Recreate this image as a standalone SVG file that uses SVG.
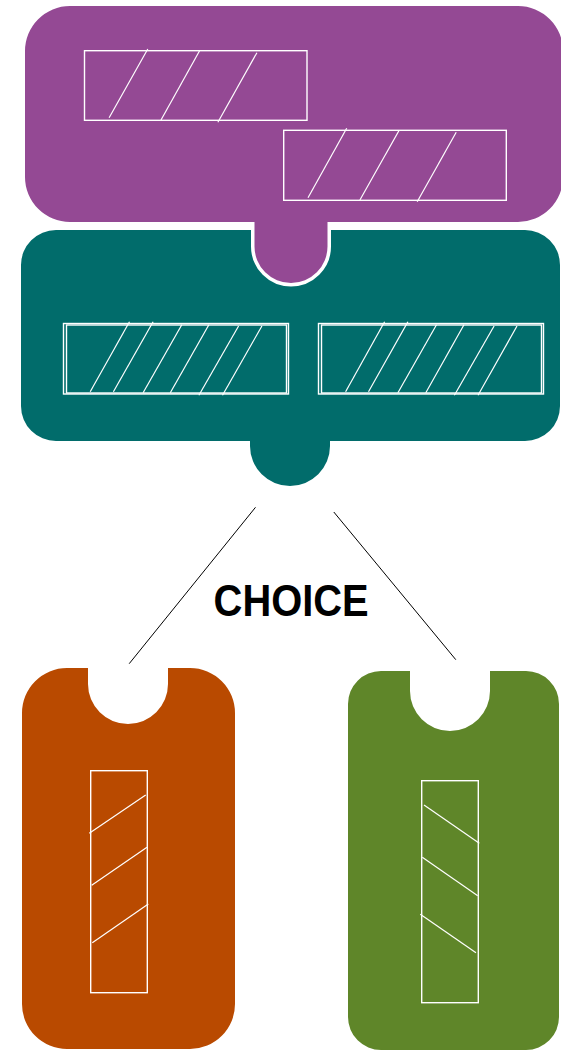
<svg xmlns="http://www.w3.org/2000/svg" width="561" height="1053" viewBox="0 0 561 1053">
<style>
.hatch{fill:none;stroke:#ffffff;stroke-width:1.2}
.box{fill:none;stroke:#ffffff;stroke-width:1.4}
.conn{stroke:#000000;stroke-width:1;fill:none}
.label{font-family:"Liberation Sans",Arial,sans-serif;font-weight:bold;font-size:44px;fill:#000000}
</style>
<rect width="561" height="1053" fill="#ffffff"/>
<g id="teal-node">
<path d="M56,230 H525 A35,35 0 0 1 560,265 V406 A35,35 0 0 1 525,441 H330 V446 A40,40 0 0 1 250,446 V441 H56 A35,35 0 0 1 21,406 V265 A35,35 0 0 1 56,230 Z" fill="#016c6b"/>
<rect class="box" x="63.5" y="323.5" width="225" height="70.5"/>
<rect class="box" x="66.5" y="325" width="220" height="68"/>
<rect class="box" x="318.5" y="323.5" width="225" height="70.5"/>
<rect class="box" x="321.5" y="325" width="220" height="68"/>
<line class="hatch" x1="129.5" y1="321.7" x2="90.2" y2="391.7"/>
<line class="hatch" x1="153.1" y1="321.7" x2="113.4" y2="391.7"/>
<line class="hatch" x1="181.8" y1="324.7" x2="143.1" y2="392.7"/>
<line class="hatch" x1="208.9" y1="324.7" x2="170.3" y2="392.7"/>
<line class="hatch" x1="238.6" y1="326" x2="198.9" y2="395.3"/>
<line class="hatch" x1="261.9" y1="326" x2="222.5" y2="395.3"/>
<line class="hatch" x1="384.6" y1="321.7" x2="345.6" y2="391.7"/>
<line class="hatch" x1="407.9" y1="321.7" x2="368.5" y2="391.7"/>
<line class="hatch" x1="436.5" y1="324.7" x2="397.9" y2="392.7"/>
<line class="hatch" x1="464" y1="324.7" x2="425.8" y2="392.7"/>
<line class="hatch" x1="494.1" y1="326" x2="454.4" y2="395.3"/>
<line class="hatch" x1="517" y1="326" x2="478" y2="395.3"/>
</g>
<g id="purple-node">
<path d="M70,6 H518 A45,45 0 0 1 563,51 V177 A45,45 0 0 1 518,222 H327.5 V246.5 A36.5,36.5 0 0 1 254.5,246.5 V222 H70 A45,45 0 0 1 25,177 V51 A45,45 0 0 1 70,6 Z" fill="#944994" stroke="#ffffff" stroke-width="7" paint-order="stroke"/>
<rect class="box" x="84.5" y="50.7" width="222.5" height="69.6"/>
<rect class="box" x="283.7" y="130.3" width="222.6" height="70"/>
<line class="hatch" x1="147.8" y1="49" x2="109.1" y2="117.7"/>
<line class="hatch" x1="199.6" y1="50.7" x2="161" y2="120"/>
<line class="hatch" x1="256.9" y1="52.7" x2="217.9" y2="122.3"/>
<line class="hatch" x1="346.7" y1="128.3" x2="308" y2="197.7"/>
<line class="hatch" x1="398.9" y1="130.7" x2="359.9" y2="200"/>
<line class="hatch" x1="456.2" y1="132.3" x2="417.2" y2="201.7"/>
</g>
<g id="connectors">
<line class="conn" x1="255.5" y1="507.3" x2="129.2" y2="663.7"/>
<line class="conn" x1="333.8" y1="512" x2="455.8" y2="659.7"/>
</g>
<g id="choice-label">
<text class="label" x="213.6" y="615.7" textLength="155" lengthAdjust="spacingAndGlyphs">CHOICE</text>
</g>
<g id="orange-node">
<path d="M67,668 H88 V684 A40,40 0 0 0 168,684 V668 H190 A45,45 0 0 1 235,713 V1004 A45,45 0 0 1 190,1049 H67 A45,45 0 0 1 22,1004 V713 A45,45 0 0 1 67,668 Z" fill="#b94a00"/>
<rect class="box" x="90.7" y="770.7" width="56.6" height="222"/>
<line class="hatch" x1="89.3" y1="833.3" x2="145.7" y2="795"/>
<line class="hatch" x1="91.7" y1="885.3" x2="147" y2="847.3"/>
<line class="hatch" x1="92.3" y1="942.7" x2="148.3" y2="904"/>
</g>
<g id="green-node">
<path d="M381,671 H410 V691 A40,40 0 0 0 490,691 V671 H526 A33,33 0 0 1 559,704 V1017 A33,33 0 0 1 526,1050 H381 A33,33 0 0 1 348,1017 V704 A33,33 0 0 1 381,671 Z" fill="#5f8629"/>
<rect class="box" x="421.7" y="780.7" width="56.6" height="222"/>
<line class="hatch" x1="424" y1="805" x2="479.3" y2="843.3"/>
<line class="hatch" x1="422.3" y1="857.3" x2="477.7" y2="895.7"/>
<line class="hatch" x1="420.3" y1="914.3" x2="476" y2="952.7"/>
</g>
</svg>
